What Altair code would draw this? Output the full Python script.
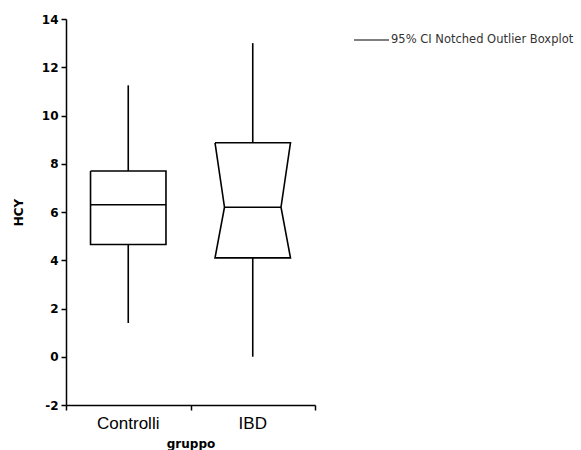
import altair as alt
import pandas as pd

# ---- values ----
groups = ["Controlli", "IBD"]
positions = [0.5, 1.5]          # category centres on the x scale (domain 0..2)
q1 = [4.65, 4.1]
median = [6.3, 6.2]
q3 = [7.7, 8.87]
whisker_low = [1.4, 0.0]
whisker_high = [11.25, 13.0]
notch_depth = [0.0, 0.076]      # inset of the notch at the median (x units)
box_half = 0.303
legend_label = "95% CI Notched Outlier Boxplot"
y_ticks = [-2, 0, 2, 4, 6, 8, 10, 12, 14]

# ---- derived tables ----
outline_rows = []
for g, c, a, m, b, d in zip(groups, positions, q1, median, q3, notch_depth):
    pts = [
        (c - box_half, b), (c + box_half, b), (c + box_half - d, m),
        (c + box_half, a), (c - box_half, a), (c - box_half + d, m),
        (c - box_half, b),
    ]
    for i, (px, py) in enumerate(pts):
        outline_rows.append({"group": g, "i": i, "x": px, "y": py})
outline = pd.DataFrame(outline_rows)

stats = pd.DataFrame({
    "group": groups, "pos": positions, "q1": q1, "median": median, "q3": q3,
    "lo": whisker_low, "hi": whisker_high,
    "mx1": [p - box_half + d for p, d in zip(positions, notch_depth)],
    "mx2": [p + box_half - d for p, d in zip(positions, notch_depth)],
})

W, H = 249, 386
xscale = alt.Scale(domain=[0, 2], nice=False, zero=False)
yscale = alt.Scale(domain=[-2, 14], nice=False, zero=False)

xaxis = alt.Axis(values=[0, 1, 2], labels=False, tickSize=5, grid=False,
                 domainColor="black", tickColor="black", domainWidth=1.5, tickWidth=1.5,
                 title="gruppo", titleFont="DejaVu Sans", titleFontWeight="bold",
                 titleFontSize=12, titleColor="black", titleY=38, titleBaseline="middle")
yaxis = alt.Axis(values=y_ticks, tickSize=5, grid=False, domainColor="black",
                 tickColor="black", domainWidth=1.5, tickWidth=1.5,
                 labelExpr="'' + datum.value",
                 labelFont="DejaVu Sans", labelFontWeight="bold", labelFontSize=12,
                 labelColor="black", labelPadding=3,
                 title="HCY", titleFont="DejaVu Sans", titleFontWeight="bold",
                 titleFontSize=12, titleColor="black", titleX=-48, titleBaseline="middle")

whiskers_hi = alt.Chart(stats).mark_rule(color="black", strokeWidth=1.6).encode(
    x=alt.X("pos:Q", scale=xscale, axis=xaxis),
    y=alt.Y("q3:Q", scale=yscale, axis=yaxis),
    y2="hi:Q",
)
whiskers_lo = alt.Chart(stats).mark_rule(color="black", strokeWidth=1.6).encode(
    x=alt.X("pos:Q", scale=xscale), y=alt.Y("q1:Q", scale=yscale), y2="lo:Q",
)
box_fill = alt.Chart(stats).mark_rect(color="white").encode(
    x=alt.X("mx1:Q", scale=xscale), x2="mx2:Q",
    y=alt.Y("q1:Q", scale=yscale), y2="q3:Q",
)
boxes = alt.Chart(outline).mark_line(color="black", strokeWidth=1.6, strokeJoin="miter").encode(
    x=alt.X("x:Q", scale=xscale), y=alt.Y("y:Q", scale=yscale),
    detail="group:N", order="i:Q",
)
medians = alt.Chart(stats).mark_rule(color="black", strokeWidth=1.6).encode(
    x=alt.X("mx1:Q", scale=xscale), x2="mx2:Q", y=alt.Y("median:Q", scale=yscale),
)
cat_labels = alt.Chart(stats).mark_text(
    font="Liberation Sans", fontSize=17, color="black", baseline="middle", align="center"
).encode(
    x=alt.X("pos:Q", scale=xscale), y=alt.value(H + 19), text="group:N",
)
legend_line = alt.Chart(alt.Data(values=[{"t": legend_label}])).mark_rule(
    color="black", strokeWidth=1.2
).encode(x=alt.value(288), x2=alt.value(323), y=alt.value(21))
legend_text = alt.Chart(alt.Data(values=[{"t": legend_label}])).mark_text(
    font="DejaVu Sans", fontSize=11.5, color="#333333", align="left", baseline="middle"
).encode(x=alt.value(325), y=alt.value(21), text="t:N")

chart = alt.layer(
    whiskers_hi, whiskers_lo, box_fill, boxes, medians, cat_labels, legend_line, legend_text
).properties(
    width=W, height=H,
    autosize=alt.AutoSizeParams(type="none"),
    padding={"left": 66, "top": 19, "right": 266, "bottom": 45},
    background="white",
).configure_view(stroke=None)

chart.save("out.html", embed_options={"renderer": "svg", "actions": False})
